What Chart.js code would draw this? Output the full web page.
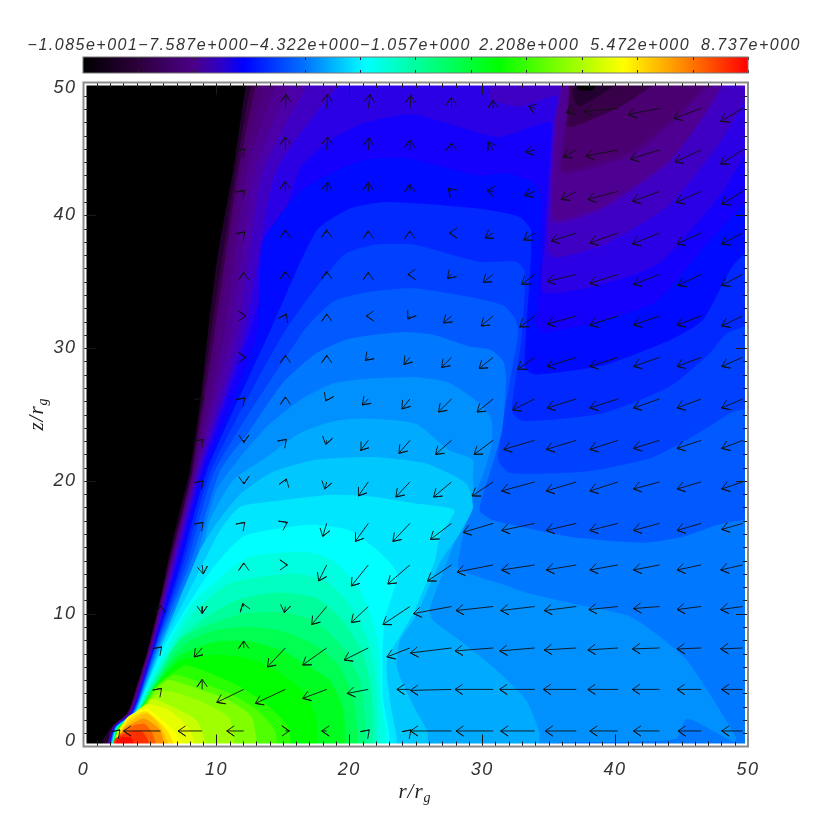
<!DOCTYPE html>
<html>
<head>
<meta charset="utf-8">
<title>z/r contour</title>
<script src="https://cdn.jsdelivr.net/npm/chart.js@4"></script>
<style>
  html, body { margin: 0; padding: 0; background: #fff; }
  canvas { position: absolute; left: 0; top: 0; }
</style>
</head>
<body>
<canvas id="field" width="830" height="830"></canvas>
<canvas id="colorbar" width="830" height="80"></canvas>
<script>
// Colour bar
const cbarTickValues = [-10.85, -9.218, -7.587, -5.955, -4.322, -2.69, -1.057, 0.575, 2.208, 3.84, 5.472, 7.105, 8.737];
const cbarTickLabels = ['\u22121.085e+001', '', '\u22127.587e+000', '', '\u22124.322e+000', '', '\u22121.057e+000', '', ' 2.208e+000', '', ' 5.472e+000', '', ' 8.737e+000'];
const cbarStopValues = [-10.85, -9.218, -7.587, -6.77, -6.12, -4.322, -2.53, -0.57, 1.39, 3.19, 5.07, 6.94, 8.737];
const cbarStopColors = ['#000000', '#2d003c', '#4b0087', '#2d00c8', '#0000ff', '#0073ff', '#00ffff', '#00ff80', '#00ff00', '#80ff00', '#ffff00', '#ff8000', '#ff0000'];

// Filled contour bands, lowest first. Each one outlines the area at or above its level, as [r, z]
const bandColors = ['#000000', '#220030', '#380048', '#4a0070', '#4c0080', '#4e0092', '#4c00a8', '#4000c4', '#2c00e4', '#1400fa',
  '#000aff', '#0028ff', '#0041ff', '#005aff', '#0078ff', '#0091ff', '#00aaff', '#00c8ff', '#00e6ff', '#00ffff',
  '#00ffe0', '#00ffc0', '#00ff9c', '#00ff78', '#00ff50', '#00ff20', '#00ff00', '#28ff00', '#50ff00', '#80ff00',
  '#a0ff00', '#c8ff00', '#e6ff00', '#ffff00', '#ffdc00', '#ffbe00', '#ff9000', '#ff6000', '#ff3000', '#ff0a00'];

const band00 = [[-1, -1], [-1, 51], [51, 51], [51, -1]];
const band01 = [[1.45, -1], [1.5, 0.5], [2.1, 1.47], [3.27, 2.5], [3.85, 4.03], [4.4, 5.5], [5, 8], [5.76, 10.8], [6.36, 14], [7.26, 17.8], [8, 20.8], [8.77, 25.9], [9.37, 31.2], [10.1, 37], [11.25, 43.3], [12.5, 51], [13.5, 51], [37, 51], [37.2, 49.5], [38.4, 49.5], [38.7, 51], [51, 51], [51, -1]];
const band02 = [[1.5, -1], [2.14, 1.4], [3.3, 2.5], [3.85, 4], [5.05, 8], [6.45, 14], [8.15, 20.8], [9.6, 31.2], [11.45, 43.3], [12.9, 51], [13.9, 51], [36.73, 51], [36.86, 48.8], [37.36, 48.2], [42.4, 51], [51, 51], [51, -1]];
const band03 = [[1.52, -1], [2.16, 1.4], [3.35, 2.5], [3.9, 4], [5.1, 8], [6.55, 14], [8.2, 20.8], [9.85, 31.2], [11.65, 43.3], [13.3, 51], [14.3, 51], [36.35, 51], [36.2, 46.8], [36.86, 46.67], [40.4, 48.2], [45.1, 51], [51, 51], [51, -1]];
const band04 = [[1.55, -1], [2.18, 1.4], [3.37, 2.5], [3.95, 4], [5.15, 8], [6.6, 14], [8.3, 20.8], [10.15, 31.2], [11.9, 43.3], [14, 51], [15, 51], [36.1, 51], [36, 43.5], [36.6, 43.4], [41.1, 44.8], [44.6, 47.55], [48.15, 51], [51, 51], [51, -1]];
const band05 = [[1.58, -1], [2.2, 1.4], [3.4, 2.5], [4, 4], [5.2, 8], [6.65, 14], [8.4, 20.8], [10.6, 31.2], [12.3, 43.3], [15, 51], [16, 51], [36, 51], [35.85, 43.3], [36.6, 43.1], [41.4, 44.6], [44.9, 47.5], [48.4, 51], [51, 51], [51, -1]];
const band06 = [[1.6, -1], [2.22, 1.4], [3.45, 2.5], [4.05, 4], [5.25, 8], [6.72, 14], [8.5, 20.8], [11.1, 31.2], [12.9, 43.3], [16.1, 51], [17.1, 51], [35.8, 51], [35.55, 46.8], [35.3, 39.75], [36.1, 39.7], [39.1, 40.7], [44.1, 44.2], [46.5, 47.3], [48.9, 51], [51, 51], [51, -1]];
const band07 = [[1.65, -1], [2.24, 1.4], [3.5, 2.5], [4.1, 4], [5.3, 8], [6.8, 14], [8.6, 20.8], [11.65, 31.2], [13.5, 43.3], [17.6, 51], [18.6, 51], [35.7, 51], [35.5, 46.8], [35.17, 39.5], [36.1, 39.45], [39.1, 40.5], [44.1, 44], [46.6, 47.3], [49.1, 51], [51, 51], [51, -1]];
const band08 = [[1.7, -1], [2.26, 1.4], [3.55, 2.5], [4.15, 4], [5.35, 8], [6.9, 14], [8.75, 20.8], [12.15, 31.2], [14.5, 43.3], [20.2, 51], [21.2, 51], [30.6, 51], [30.6, 48.8], [32.85, 48.2], [35.6, 49], [35.35, 46.8], [34.97, 40], [34.97, 37.3], [35.6, 36.8], [39.1, 37.76], [44.1, 40.8], [47.9, 45.5], [51, 50], [51, -1]];
const band09 = [[1.72, -1], [2.28, 1.4], [3.57, 2.5], [4.17, 4], [5.4, 8], [7.05, 14], [8.9, 20.8], [12.5, 31.2], [16.3, 43.5], [18.8, 45.8], [21.3, 47], [24.8, 47.6], [29.1, 46.4], [31.3, 45.9], [34.1, 46.8], [35.2, 47], [35, 43], [34.7, 38], [34.6, 34.25], [37.8, 34.5], [43.1, 36.25], [47.9, 41.5], [51, 46], [51, -1]];
const band10 = [[1.74, -1], [2.3, 1.4], [3.6, 2.5], [4.2, 4], [5.45, 8], [7.2, 14], [9.1, 20.8], [13.1, 31.2], [13.5, 38], [16.3, 41.8], [19.3, 43.5], [21.3, 44.2], [24.3, 44.3], [29.8, 43], [31.6, 43.2], [33.8, 42.5], [34.5, 41.3], [34.2, 33], [34, 32.1], [34.5, 31.2], [39.1, 32.1], [43.1, 33.5], [46.6, 37.5], [48.9, 40], [51, 42], [51, -1]];
const band11 = [[1.76, -1], [2.32, 1.4], [3.63, 2.5], [4.23, 4], [5.5, 8], [7.4, 14], [9.3, 20.8], [14, 31.2], [17.5, 38.8], [20, 40.5], [22.8, 41], [29.8, 40.5], [32.8, 39.9], [33.7, 38.8], [33.3, 31.1], [33.2, 29.1], [33.3, 28.35], [34.1, 28], [39.1, 28.7], [44.1, 30.6], [46.6, 32.1], [48.9, 36.25], [51, 38], [51, -1]];
const band12 = [[1.78, -1], [2.34, 1.4], [3.65, 2.5], [4.25, 4], [5.55, 8], [7.6, 14], [9.6, 20.8], [15.1, 31.2], [19.55, 37], [22, 37.8], [24.8, 37.8], [29.8, 36.5], [32.6, 36.5], [33.2, 35.75], [33, 31.1], [32.3, 26.1], [32.3, 25.1], [33.1, 24.5], [39.1, 25.1], [44.1, 27.1], [47.1, 29.6], [48.4, 31.1], [51, 31.7], [51, -1]];
const band13 = [[1.8, -1], [2.36, 1.4], [3.68, 2.5], [4.29, 4], [5.6, 8], [7.85, 14], [9.9, 20.8], [16.5, 31.2], [18.8, 33.5], [21.3, 34.2], [24.8, 34.5], [29.8, 33.7], [31.6, 33.2], [32.5, 32.2], [32.7, 31.1], [31.8, 25.85], [31.2, 21.6], [32.1, 20.6], [37.8, 20.7], [42.9, 21.8], [47.1, 24.1], [48.9, 25.2], [51, 25.3], [51, -1]];
const band14 = [[1.82, -1], [2.38, 1.4], [3.71, 2.5], [4.33, 4], [5.7, 8], [8.1, 14], [10.3, 20.8], [12.5, 23.8], [15, 27.4], [17.5, 29.6], [20, 30.7], [23.8, 31.2], [26.3, 31], [29.1, 30.1], [30.6, 29.9], [31.6, 29], [31.8, 27.6], [31.5, 23.8], [30.8, 21.3], [29.8, 17.8], [30.8, 17.05], [36.6, 15.8], [42.1, 15.35], [45.1, 15.8], [48.1, 16.8], [51, 16.9], [51, -1]];
const band15 = [[1.84, -1], [2.4, 1.4], [3.75, 2.5], [4.37, 4], [5.8, 8], [8.4, 14], [10, 19.3], [11.8, 21.8], [13.8, 24.1], [16.3, 26.1], [18.8, 27.35], [21.3, 27.7], [25, 27.8], [27.5, 27.4], [29.8, 25.85], [30.7, 24.6], [30.7, 22.6], [30, 20.3], [29.1, 18.05], [28.2, 14.04], [28.3, 13.3], [31.3, 12.3], [33.6, 11.5], [37.35, 10.65], [41.1, 9.8], [43.6, 8.1], [45.4, 6.5], [47.1, 4], [49.1, 0.7], [49, 0.3], [45.4, 2.1], [44.6, 0.6], [40.9, 0.35], [35, 0.2], [34, -1]];
const band16 = [[1.86, -1], [2.42, 1.4], [3.78, 2.5], [4.41, 4], [5.9, 8], [8.8, 14], [9.5, 17], [11.3, 20.1], [13.8, 21.8], [16.3, 23.6], [18.8, 24.5], [21.3, 24.7], [25, 24.3], [27.5, 22.3], [29.3, 21.6], [29.3, 20.6], [29.3, 19], [27.4, 14.04], [26.05, 10.3], [26.3, 9.5], [28.3, 8], [30.8, 6], [33.3, 3.5], [34.3, 1], [34.2, -1]];
const band17 = [[1.88, -1], [2.44, 1.4], [3.81, 2.5], [4.45, 4], [6, 8], [8.77, 14.8], [10, 16.8], [11.8, 19], [14.3, 20.7], [17.5, 21.6], [21.8, 21.8], [25.8, 21.3], [28.8, 19.8], [29.3, 18], [28.3, 16], [26.9, 14], [25, 9.8], [23.8, 8], [23.55, 6.26], [23.8, 5.25], [25, 2.75], [25.9, 1], [25.8, -1]];
const band18 = [[1.9, -1], [2.46, 1.4], [3.85, 2.5], [4.5, 4], [6.1, 8], [9, 13.8], [10.3, 16.3], [11.8, 18.05], [15, 18.55], [18.8, 18.95], [21.8, 18.8], [25, 18.3], [27.9, 17.8], [26.8, 15.8], [26.45, 14], [24.8, 10], [22.85, 6.5], [23.05, 3.5], [23.55, 0.75], [23.55, -1]];
const band19 = [[1.92, -1], [2.48, 1.4], [3.88, 2.5], [4.55, 4], [6.3, 8], [9.27, 12.8], [12, 15.8], [17, 16.7], [20, 16.3], [22.3, 14.6], [23.6, 13], [22.65, 9.5], [22.5, 6.76], [22.55, 3.5], [23, 1], [23, -1]];
const band20 = [[1.94, -1], [2.5, 1.4], [3.92, 2.5], [4.6, 4], [6.55, 8], [8.2, 10.8], [10.5, 12.9], [12.5, 14.3], [16.8, 14.65], [18.8, 14], [20.8, 11.8], [21.9, 9], [22.3, 6.76], [22.4, 3.5], [22.7, 1.5], [22.9, -1]];
const band21 = [[1.96, -1], [2.52, 1.4], [3.96, 2.5], [4.7, 4], [6.9, 8], [8.5, 10.3], [11, 12.3], [15.5, 13], [18, 12.6], [19.8, 11], [21.4, 8], [22, 5], [22.1, 2], [22.2, -1]];
const band22 = [[1.97, -1], [2.54, 1.4], [4, 2.5], [4.8, 4], [7, 7.8], [9, 9.6], [11.5, 11], [14.5, 11.6], [17.5, 11.2], [19.5, 9.5], [21, 7], [21.7, 4], [21.8, -1]];
const band23 = [[1.98, -1], [2.56, 1.4], [4.02, 2.5], [4.95, 4], [7.2, 8], [9.5, 9.2], [12, 10], [15, 10.1], [17.5, 9.4], [19.5, 7.5], [20.8, 5], [21.2, 2], [21.3, -1]];
const band24 = [[1.99, -1], [2.58, 1.4], [4.05, 2.6], [5.1, 4.2], [6.9, 7], [8, 8], [10, 8.8], [12.5, 9], [15, 8.7], [17.5, 7.6], [19.3, 6], [20.3, 3.5], [20.6, 1], [20.6, -1]];
const band25 = [[2, -1], [2.6, 1.4], [4.1, 2.6], [5.2, 4.3], [7.2, 6.8], [10, 7.9], [12.5, 7.9], [15, 7.2], [17, 6], [18.5, 5], [19.5, 3], [19.7, 1], [19.6, -1]];
const band26 = [[2, -1], [2.62, 1.4], [4.15, 2.6], [5.25, 4.4], [7.2, 6.4], [10, 6.9], [12.5, 6.6], [14.5, 5.7], [16.5, 4.2], [17.5, 2.2], [17.6, -1]];
const band27 = [[2, -1], [2.64, 1.4], [4.2, 2.6], [5.3, 4.4], [7.6, 6.1], [9.6, 5.5], [11.65, 4.6], [13.65, 3.25], [15.4, 1.5], [15.7, -1]];
const band28 = [[2, -1], [2.66, 1.4], [4.25, 2.6], [5.4, 4.4], [6.8, 5.4], [8.9, 4.8], [11, 4], [13, 2.8], [14.4, 1.2], [14.6, -1]];
const band29 = [[2, -1], [2.68, 1.4], [4.3, 2.5], [5.5, 4.3], [6.4, 5], [8.9, 4.25], [10.9, 3.5], [12.65, 2.25], [13.2, -1]];
const band30 = [[2, -1], [2.7, 1.4], [4.35, 2.6], [5.9, 4.2], [7.5, 3.9], [9.5, 3.1], [11, 2.1], [11.5, -1]];
const band31 = [[2, -1], [2.72, 1.4], [4.4, 2.6], [5.1, 3.6], [6.9, 2.9], [8.6, 1.85], [9.6, -1]];
const band32 = [[2, -1], [2.75, 1.4], [3.7, 2.4], [4.8, 3.2], [6.5, 2.7], [8, 1.3], [8.7, -1]];
const band33 = [[2, -1], [2.8, 1.4], [3.37, 2.25], [4.75, 2.87], [5.9, 2], [6.9, 1.1], [7.9, -1]];
const band34 = [[2, -1], [2.85, 1.3], [3.45, 2.1], [4.7, 2.65], [6.3, 1.2], [7.3, -1]];
const band35 = [[2, -1], [2.9, 1.2], [3.5, 1.9], [4.75, 2.5], [5.8, 1.5], [6.9, -1]];
const band36 = [[2, -1], [3, 1.3], [4, 1.9], [4.6, 2.1], [5.75, 1.25], [6.4, -1]];
const band37 = [[2, -1], [2.7, 0.9], [3.8, 1.6], [4.6, 1.7], [5.2, 1], [5.8, -1]];
const band38 = [[2, -1], [2.4, 0.6], [3.5, 1.1], [4.3, 1.2], [4.8, 0.6], [5.2, -1]];
const band39 = [[2, -1], [2.6, 0.6], [3.6, 0.65], [4.1, -1]];
const bandShapes = [band00, band01, band02, band03, band04, band05, band06, band07, band08, band09,
  band10, band11, band12, band13, band14, band15, band16, band17, band18, band19,
  band20, band21, band22, band23, band24, band25, band26, band27, band28, band29,
  band30, band31, band32, band33, band34, band35, band36, band37, band38, band39];

// Velocity arrows: tails sit on this grid, rows listed from the bottom
const rGrid = [2.67, 5.8, 8.93, 12.06, 15.19, 18.3, 21.43, 24.56, 27.69, 30.82, 33.95, 37.08, 40.21, 43.34, 46.47, 49.6];
const zGrid = [1.17, 4.3, 7.42, 10.54, 13.67, 16.8, 19.92, 23.05, 26.17, 29.3, 32.42, 35.55, 38.67, 41.8, 44.92, 48.05];
const N = null;
const uRows = [
  [1, -37, -24, -17, 4, -5, 1, 1, -41, -37, -34, -31, -28, -26, -23, -21],
  [N, 1, 0, -27, -30, -24, -21, -13, -41, -38, -35, -33, -30, -27, -24, -21],
  [N, 1, -8, 0, -18, -24, -24, -23, -41, -38, -35, -32, -30, -27, -24, -22],
  [N, 0, 0, -1, -1, -15, -17, -27, -38, -37, -34, -32, -29, -26, -24, -22],
  [N, N, 1, 0, 2, -8, -17, -22, -24, -36, -33, -30, -28, -26, -24, -22],
  [N, N, 1, 1, 2, -4, -13, -17, -21, -30, -33, -30, -28, -26, -24, -21],
  [N, N, 1, 0, 1, -2, -10, -14, -18, -21, -33, -30, -28, -26, -24, -21],
  [N, N, 1, 0, 1, -1, -8, -11, -16, -19, -31, -30, -28, -26, -24, -21],
  [N, N, 1, 1, 0, -1, -6, -8, -13, -16, -22, -29, -28, -26, -24, -21],
  [N, N, N, 2, 0, 0, -3, -6, -10, -14, -17, -29, -28, -26, -24, -21],
  [N, N, N, 2, 1, 0, -2, -2, -8, -12, -15, -29, -28, -26, -24, -21],
  [N, N, N, 0, 0, 0, 0, -2, -4, -10, -13, -29, -28, -26, -23, -21],
  [N, N, N, 1, 0, 0, 0, 0, -2, -8, -11, -25, -28, -27, -24, -21],
  [N, N, N, 1, 0, 1, 0, 0, -3, -6, -10, -15, -30, -27, -25, -21],
  [N, N, N, 1, 0, 1, 1, 0, 0, -5, -9, -13, -32, -29, -26, -22],
  [N, N, N, N, 1, 1, 2, 1, 0, 0, -6, -10, -34, -31, -27, -22]
];
const vRows = [
  [1, 0, 0, 0, 0, 0, 1, 1, 0, 0, 0, 0, 0, 0, 0, 0],
  [N, 1, 10, -13, -14, -9, -4, 0, -1, 0, 0, 0, 0, 0, 0, 0],
  [N, 1, -9, 7, -19, -17, -12, -9, -5, -3, -3, -2, -2, -1, -1, -1],
  [N, 1, -7, 3, -6, -18, -16, -18, -7, -4, -4, -4, -3, -2, -3, -3],
  [N, N, -9, 2, 0, -16, -21, -19, -16, -7, -5, -5, -5, -5, -5, -5],
  [N, N, 1, 1, 1, -13, -18, -18, -16, -9, -7, -7, -7, -7, -7, -6],
  [N, N, 1, -2, 3, -7, -14, -15, -15, -14, -9, -9, -9, -7, -7, -7],
  [N, N, 1, -2, 1, -4, -10, -13, -14, -14, -9, -9, -9, -8, -8, -8],
  [N, N, 1, 1, 2, -2, -6, -10, -13, -13, -11, -9, -9, -9, -9, -9],
  [N, N, N, 0, 2, 2, -3, -7, -10, -11, -12, -9, -9, -9, -9, -9],
  [N, N, N, 0, 2, 2, 0, -3, -7, -10, -11, -8, -9, -9, -9, -10],
  [N, N, N, 2, 3, 3, 2, 0, -4, -8, -10, -7, -9, -10, -11, -11],
  [N, N, N, 1, 3, 3, 2, 2, 0, -5, -7, -8, -10, -11, -11, -11],
  [N, N, N, 1, 10, 9, 9, 7, 3, 1, -4, -8, -8, -10, -11, -13],
  [N, N, N, 1, 13, 13, 12, 10, 7, 8, -2, -7, -6, -9, -12, -14],
  [N, N, N, N, 14, 14, 14, 13, 11, 8, 2, -4, -3, -6, -10, -13]
];
const speedScale = 0.0753; // velocity units to axis units
const barbLength = 0.68;   // arrow head length in axis units
const barbAngle = 0.6;

// Builds one broken polyline holding all the arrows
function buildArrowPoints() {
  const pts = [];
  zGrid.forEach((z, j) => {
    rGrid.forEach((r, i) => {
      const u = uRows[j][i], v = vRows[j][i];
      if (u === null) return;
      const tipX = r + u * speedScale, tipY = z + v * speedScale;
      const a = Math.atan2(v, u);
      pts.push({ x: r, y: z }, { x: tipX, y: tipY });
      pts.push({ x: tipX - barbLength * Math.cos(a - barbAngle), y: tipY - barbLength * Math.sin(a - barbAngle) });
      pts.push({ x: tipX, y: tipY });
      pts.push({ x: tipX - barbLength * Math.cos(a + barbAngle), y: tipY - barbLength * Math.sin(a + barbAngle) });
      pts.push({ x: NaN, y: NaN });
    });
  });
  return pts;
}

const labelFont = "'Liberation Sans', sans-serif";
const titleFont = "'Liberation Serif', serif";

// Inside ticks, white margin and grey frame round the plot
const framePlugin = {
  id: 'frame',
  beforeUpdate(chart) { chart.ctx.letterSpacing = '1.5px'; },
  afterDatasetsDraw(chart) {
    const { ctx, chartArea: a, scales: { x, y } } = chart;
    ctx.save();
    ctx.strokeStyle = '#fff';
    ctx.lineWidth = 3;
    ctx.strokeRect(a.left + 1.5, a.top + 1.5, a.width - 3, a.height - 3);
    ctx.strokeStyle = '#1a1a1a';
    ctx.lineWidth = 1;
    ctx.beginPath();
    x.ticks.forEach(t => {
      if (t.value === 0 || t.value === 50) return;
      const px = Math.round(x.getPixelForValue(t.value)) + 0.5;
      const len = t.value % 10 === 0 ? 12 : 5;
      ctx.moveTo(px, a.bottom); ctx.lineTo(px, a.bottom - len);
      ctx.moveTo(px, a.top); ctx.lineTo(px, a.top + len);
    });
    y.ticks.forEach(t => {
      if (t.value === 0 || t.value === 50) return;
      const py = Math.round(y.getPixelForValue(t.value)) + 0.5;
      const len = t.value % 10 === 0 ? 12 : 5;
      ctx.moveTo(a.left, py); ctx.lineTo(a.left + len, py);
      ctx.moveTo(a.right, py); ctx.lineTo(a.right - len, py);
    });
    ctx.stroke();
    ctx.strokeStyle = '#8c8c8c';
    ctx.lineWidth = 2;
    ctx.strokeRect(a.left, a.top, a.width, a.height);
    ctx.restore();
  }
};

// Axis titles need a subscript, which the scale title can't do
function drawSubscripted(ctx, main, sub, x, y, angle) {
  ctx.save();
  ctx.translate(x, y);
  ctx.rotate(angle);
  ctx.letterSpacing = '1px';
  ctx.fillStyle = '#222';
  ctx.textBaseline = 'alphabetic';
  ctx.font = 'italic 21px ' + titleFont;
  const w = ctx.measureText(main).width;
  ctx.fillText(main, -w / 2 - 4, 0);
  ctx.font = 'italic 14px ' + titleFont;
  ctx.fillText(sub, w / 2 - 4, 4);
  ctx.restore();
}

const titlesPlugin = {
  id: 'axisTitles',
  afterDraw(chart) {
    drawSubscripted(chart.ctx, 'r/r', 'g', 415, 798, 0);
    drawSubscripted(chart.ctx, 'z/r', 'g', 43, 414, -Math.PI / 2);
  }
};

const fieldDatasets = [{
  data: buildArrowPoints(),
  showLine: true,
  borderColor: '#111',
  borderWidth: 0.9,
  pointRadius: 0,
  tension: 0,
  fill: false,
  order: 0
}];
bandShapes.forEach((shape, i) => {
  fieldDatasets.push({
    data: shape.map(p => ({ x: p[0], y: p[1] })),
    showLine: true,
    borderWidth: 0,
    pointRadius: 0,
    tension: 0.2,
    fill: 'shape',
    backgroundColor: bandColors[i],
    order: 100 - i
  });
});

new Chart(document.getElementById('field'), {
  type: 'scatter',
  data: { datasets: fieldDatasets },
  plugins: [framePlugin, titlesPlugin],
  options: {
    responsive: false,
    animation: false,
    events: [],
    layout: { padding: { left: 0, top: 82.5, right: 82, bottom: 0 } },
    plugins: { legend: { display: false }, tooltip: { enabled: false } },
    scales: {
      x: {
        type: 'linear', min: 0, max: 50,
        afterFit(s) { s.height = 83.5; },
        grid: { display: false, drawTicks: false },
        border: { display: false },
        ticks: {
          stepSize: 1, autoSkip: false, maxRotation: 0, padding: 13, color: '#333',
          font: { family: labelFont, size: 18, style: 'italic' },
          callback: v => (v % 10 === 0 ? String(v) : '')
        }
      },
      y: {
        type: 'linear', min: 0, max: 50,
        afterFit(s) { s.width = 83.5; },
        grid: { display: false, drawTicks: false },
        border: { display: false },
        ticks: {
          stepSize: 1, autoSkip: false, padding: 7, color: '#333',
          font: { family: labelFont, size: 18, style: 'italic', lineHeight: 0.62 },
          callback: v => {
            if (v === 0) return ['0', ''];
            if (v === 50) return ['', '50'];
            return v % 10 === 0 ? String(v) : '';
          }
        }
      }
    }
  }
});

const colorbarPlugin = {
  id: 'colorbarFrame',
  beforeUpdate(chart) { chart.ctx.letterSpacing = '1.5px'; },
  afterDatasetsDraw(chart) {
    const { ctx, chartArea: a, scales: { x } } = chart;
    ctx.save();
    ctx.strokeStyle = '#222';
    ctx.lineWidth = 1;
    ctx.beginPath();
    x.ticks.forEach(t => {
      const px = Math.round(x.getPixelForValue(t.value)) + 0.5;
      ctx.moveTo(px, a.top); ctx.lineTo(px, a.top + 3);
      ctx.moveTo(px, a.bottom); ctx.lineTo(px, a.bottom - 3);
    });
    ctx.stroke();
    ctx.strokeStyle = '#777';
    ctx.strokeRect(a.left, a.top, a.width, a.height);
    ctx.restore();
  }
};

new Chart(document.getElementById('colorbar'), {
  type: 'bar',
  data: {
    labels: [''],
    datasets: [{
      data: [[cbarTickValues[0], cbarTickValues[12]]],
      barPercentage: 1,
      categoryPercentage: 1,
      backgroundColor(c) {
        const area = c.chart.chartArea;
        if (!area) return '#000';
        const g = c.chart.ctx.createLinearGradient(area.left, 0, area.right, 0);
        const span = cbarStopValues[12] - cbarStopValues[0];
        cbarStopValues.forEach((v, i) => g.addColorStop((v - cbarStopValues[0]) / span, cbarStopColors[i]));
        return g;
      }
    }]
  },
  plugins: [colorbarPlugin],
  options: {
    indexAxis: 'y',
    responsive: false,
    animation: false,
    events: [],
    layout: { padding: { left: 83, top: 0, right: 82, bottom: 7 } },
    plugins: { legend: { display: false }, tooltip: { enabled: false } },
    scales: {
      y: { display: false },
      x: {
        type: 'linear', position: 'top',
        min: cbarTickValues[0], max: cbarTickValues[12],
        afterFit(s) { s.height = 57; },
        afterBuildTicks(s) { s.ticks = cbarTickValues.map(v => ({ value: v })); },
        grid: { display: false, drawTicks: false },
        border: { display: false },
        ticks: {
          autoSkip: false, maxRotation: 0, padding: 2, color: '#333',
          font: { family: labelFont, size: 16, style: 'italic' },
          callback: (v, i) => cbarTickLabels[i]
        }
      }
    }
  }
});
</script>
</body>
</html>
